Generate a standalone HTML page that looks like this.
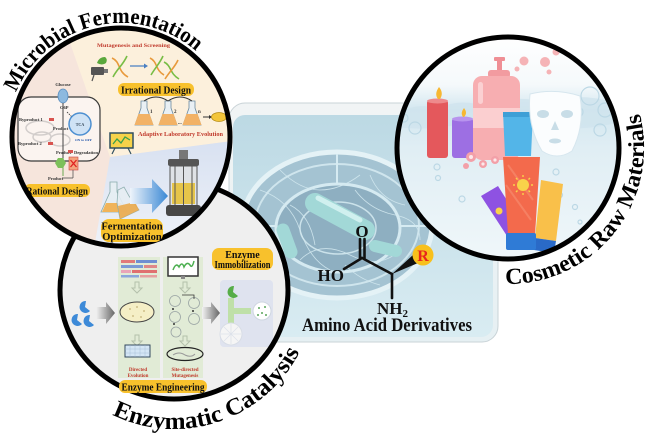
<!DOCTYPE html>
<html><head><meta charset="utf-8"><style>
html,body{margin:0;padding:0;background:#fff;}
svg{display:block;}
text{font-family:"Liberation Serif","Times New Roman",serif;font-weight:bold;}
</style></head><body>
<svg width="650" height="437" viewBox="0 0 650 437" xmlns="http://www.w3.org/2000/svg">
<defs>
<linearGradient id="gPanel" x1="0" y1="0" x2="0" y2="1"><stop offset="0" stop-color="#bcd9e4"/><stop offset="1" stop-color="#d9ecf2"/></linearGradient>
<linearGradient id="gFrame" x1="0" y1="0" x2="0" y2="1"><stop offset="0" stop-color="#f1f4f5"/><stop offset="1" stop-color="#e6f0f3"/></linearGradient>
<linearGradient id="gBlue" x1="0" y1="0" x2="0" y2="1"><stop offset="0" stop-color="#d8e1f1"/><stop offset="1" stop-color="#f1f4fa"/></linearGradient>
<linearGradient id="gCos" gradientUnits="userSpaceOnUse" x1="0" y1="35" x2="0" y2="262"><stop offset="0" stop-color="#ffffff"/><stop offset="0.22" stop-color="#f5f9fb"/><stop offset="0.33" stop-color="#d3e7f0"/><stop offset="0.5" stop-color="#e0eef4"/><stop offset="1" stop-color="#f0f7fa"/></linearGradient>
<linearGradient id="gArr" x1="0" y1="0" x2="1" y2="0"><stop offset="0" stop-color="#eef4fb"/><stop offset="1" stop-color="#3a88d4"/></linearGradient>
<linearGradient id="gGray" x1="0" y1="0" x2="1" y2="0"><stop offset="0" stop-color="#f2f2f2"/><stop offset="1" stop-color="#666"/></linearGradient>
<clipPath id="cM"><circle cx="121" cy="137" r="109"/></clipPath>
<clipPath id="cE"><ellipse cx="174" cy="290" rx="114" ry="109"/></clipPath>
<clipPath id="cC"><circle cx="508" cy="148" r="111"/></clipPath>
<path id="pM" d="M16.1 92.5 A114 114 0 0 1 198.7 53.6"/>
<path id="pE" d="M112.2 414.7 A141 141 0 0 0 301.8 347.6"/>
<path id="pC" d="M505.6 284 A136 136 0 0 0 638.1 108.2"/>
</defs>

<!-- Center panel -->
<rect x="229" y="103" width="269" height="239" rx="16" fill="url(#gFrame)" stroke="#c9d3d7" stroke-width="1"/>
<rect x="233" y="115" width="260" height="222" rx="12" fill="url(#gPanel)"/>
<ellipse cx="337" cy="225" rx="95" ry="73" fill="#a4c3d2" stroke="#e4f2f6" stroke-width="5"/>
<ellipse cx="337" cy="225" rx="82" ry="61" fill="none" stroke="#cfe5ed" stroke-width="2"/>
<ellipse cx="338" cy="228" rx="62" ry="44" fill="#8eafc1" stroke="#d5eaf1" stroke-width="3"/>
<ellipse cx="338" cy="228" rx="38" ry="26" fill="none" stroke="#cbe2ea" stroke-width="1.5"/>
<line x1="337" y1="154" x2="337" y2="184" stroke="#d6ebf2" stroke-width="2"/>
<line x1="246" y1="226" x2="276" y2="226" stroke="#d6ebf2" stroke-width="2"/>
<line x1="400" y1="226" x2="428" y2="226" stroke="#d6ebf2" stroke-width="2"/>
<g fill="none" stroke="#d3e9f0" stroke-width="0.8" opacity="0.9">
<path d="M260 190 Q290 200 300 230 T330 270"/>
<path d="M280 170 Q300 190 320 190 T360 175"/>
<path d="M300 260 Q320 240 350 255 T400 250"/>
<path d="M370 175 Q380 200 405 205"/>
<path d="M255 240 Q275 250 290 275"/>
<path d="M355 190 Q370 210 395 215 T420 240"/>
<path d="M290 205 Q310 215 315 245"/>
<path d="M345 265 Q360 280 380 285"/>
</g>
<line x1="315" y1="203" x2="365" y2="230" stroke="#a2d8d7" stroke-width="20" stroke-linecap="round"/>
<line x1="318" y1="198" x2="360" y2="220" stroke="#d0f0ef" stroke-width="5" stroke-linecap="round"/>
<line x1="283" y1="230" x2="291" y2="252" stroke="#a2d8d7" stroke-width="13" stroke-linecap="round"/>
<line x1="375" y1="246" x2="396" y2="251" stroke="#a2d8d7" stroke-width="12" stroke-linecap="round"/>

<!-- Chemical structure -->
<g stroke="#111" stroke-width="2.6" fill="none" stroke-linecap="round">
<line x1="360" y1="239" x2="360" y2="258"/>
<line x1="364.5" y1="239" x2="364.5" y2="258"/>
<line x1="362" y1="258" x2="344" y2="269"/>
<line x1="362" y1="258" x2="392" y2="274"/>
<line x1="392" y1="274" x2="392" y2="298"/>
</g>
<polygon points="392,274 413,255 418,263" fill="#111"/>
<circle cx="423" cy="255" r="10.5" fill="#f8c01c"/>
<text x="423" y="261" font-size="16" fill="#e8261d" text-anchor="middle">R</text>
<text x="362" y="237" font-size="17" fill="#111" text-anchor="middle">O</text>
<text x="344" y="281" font-size="17" fill="#111" text-anchor="end">HO</text>
<text x="377" y="314" font-size="17" fill="#111">NH<tspan font-size="11" dy="3">2</tspan></text>
<text x="302" y="331" font-size="18.5" fill="#111" textLength="170" lengthAdjust="spacingAndGlyphs">Amino Acid Derivatives</text>

<!-- Enzymatic circle -->
<ellipse cx="174" cy="290" rx="114" ry="109" fill="#efefef"/>
<g clip-path="url(#cE)">
<rect x="118" y="257" width="42" height="121" fill="#e1ebd6"/>
<rect x="163" y="257" width="40" height="121" fill="#e1ebd6"/>
<g>
<rect x="121" y="260" width="14" height="3" fill="#e07a7a"/><rect x="136" y="260" width="21" height="3" fill="#6f8fd2"/>
<rect x="121" y="265" width="22" height="3" fill="#7a9ad6"/><rect x="144" y="265" width="13" height="3" fill="#e08888"/>
<rect x="121" y="270" width="10" height="3" fill="#e9a4b8"/><rect x="132" y="270" width="25" height="3" fill="#e07070"/>
<rect x="121" y="275" width="18" height="2.5" fill="#8aa6dc"/><rect x="140" y="275" width="17" height="2.5" fill="#e6a0a0"/>
</g>
<g fill="none" stroke="#b4c0ab" stroke-width="1">
<path d="M135 282 h4 v6 h3 l-5 5 l-5 -5 h3 z"/>
<path d="M135 335 h4 v6 h3 l-5 5 l-5 -5 h3 z"/>
<path d="M183 282 h4 v6 h3 l-5 5 l-5 -5 h3 z"/>
<path d="M183 336 h4 v5 h3 l-5 5 l-5 -5 h3 z"/>
</g>
<ellipse cx="137" cy="312" rx="17" ry="10" fill="#f5efc6" stroke="#444" stroke-width="1"/>
<g fill="#cfc08a"><circle cx="130" cy="309" r="1"/><circle cx="137" cy="307" r="1"/><circle cx="144" cy="311" r="1"/><circle cx="133" cy="316" r="1"/><circle cx="141" cy="317" r="1"/></g>
<rect x="125" y="345" width="25" height="12" fill="#d4e6f5" stroke="#34495e" stroke-width="1"/>
<g stroke="#9fb8d0" stroke-width="0.4"><line x1="125" y1="349" x2="150" y2="349"/><line x1="125" y1="353" x2="150" y2="353"/><line x1="130" y1="345" x2="130" y2="357"/><line x1="135" y1="345" x2="135" y2="357"/><line x1="140" y1="345" x2="140" y2="357"/><line x1="145" y1="345" x2="145" y2="357"/></g>
<text x="138" y="371" font-size="5" fill="#c0392b" text-anchor="middle">Directed</text>
<text x="138" y="377" font-size="5" fill="#c0392b" text-anchor="middle">Evolution</text>
<rect x="168" y="257" width="30" height="19" fill="#fff" stroke="#333" stroke-width="1.5"/>
<path d="M173 270 q3 -8 6 -3 q3 -6 5 0 q3 -6 6 -2 q2 4 4 -4" fill="none" stroke="#4caf50" stroke-width="1.5"/>
<rect x="181" y="276" width="4" height="3" fill="#888"/>
<g fill="none" stroke="#9aa4a4" stroke-width="0.8">
<circle cx="175" cy="301" r="5.5"/><circle cx="194" cy="303" r="5.5"/><circle cx="175" cy="317" r="5.5"/><circle cx="194" cy="319" r="5.5"/><circle cx="176" cy="332" r="5"/>
<path d="M182 295 h12 v4" stroke="#333"/>
</g>
<circle cx="173" cy="309" r="1" fill="#333"/><circle cx="193" cy="311" r="1" fill="#333"/><circle cx="174" cy="324" r="1" fill="#333"/>
<ellipse cx="185" cy="354" rx="18" ry="6.5" fill="none" stroke="#222" stroke-width="1.2"/>
<path d="M173 355 q6 -4 12 0 q6 3 10 -1" fill="none" stroke="#999" stroke-width="1"/>
<text x="185" y="371" font-size="5" fill="#c0392b" text-anchor="middle">Site-directed</text>
<text x="185" y="377" font-size="5" fill="#c0392b" text-anchor="middle">Mutagenesis</text>
<polygon points="96,307 106,307 106,302 115,313 106,324 106,319 96,319" fill="url(#gGray)"/>
<polygon points="202,307 211,307 211,302 220,313 211,324 211,319 202,319" fill="url(#gGray)"/>
<g fill="#3d8ad8">
<path d="M86 301 a6 6 0 1 0 4 10 l-5 -4 z"/>
<path d="M78 314 a6 6 0 1 0 4 10 l-5 -4 z"/>
<path d="M90 315 a6 6 0 1 0 4 10 l-5 -4 z"/>
</g>
<rect x="220" y="280" width="53" height="67" rx="4" fill="#dfe3ef"/>
<path d="M234 286 a6 6 0 1 0 4 10 l-5 -4 z" fill="#56ad48"/>
<rect x="228" y="298" width="6" height="26" fill="#bfe0a8"/>
<rect x="231" y="308" width="20" height="6" fill="#bfe0a8"/>
<circle cx="262" cy="311" r="9" fill="#fff" stroke="#cfd6e0" stroke-width="1"/>
<g fill="#5aa65a"><circle cx="259" cy="308" r="1"/><circle cx="265" cy="307" r="1"/><circle cx="262" cy="313" r="1"/><circle cx="258" cy="315" r="1"/><circle cx="266" cy="315" r="1"/></g>
<circle cx="231" cy="334" r="11" fill="#f5f5f5" stroke="#d8dde6" stroke-width="1"/>
<path d="M221 334 h20 M231 324 v20 M224 327 l14 14 M238 327 l-14 14" stroke="#dde2ea" stroke-width="0.8"/>
</g>
<ellipse cx="174" cy="290" rx="114" ry="109" fill="none" stroke="#000" stroke-width="5"/>
<rect x="212" y="248" width="61" height="22" rx="7" fill="#f8c12c"/>
<text x="242.5" y="258" font-size="10" fill="#111" text-anchor="middle">Enzyme</text>
<text x="242.5" y="268" font-size="10" fill="#111" text-anchor="middle" textLength="56" lengthAdjust="spacingAndGlyphs">Immobilization</text>
<rect x="119" y="380" width="88" height="13" rx="6" fill="#f8c12c"/>
<text x="163" y="390.5" font-size="10.5" fill="#111" text-anchor="middle" textLength="83" lengthAdjust="spacingAndGlyphs">Enzyme Engineering</text>

<!-- Microbial circle -->
<circle cx="121" cy="137" r="109" fill="#f6e5dc"/>
<g clip-path="url(#cM)">
<polygon points="62,20 240,20 240,140 110,157" fill="#fcf0dc"/>
<polygon points="110,157 240,140 240,260 92,260" fill="url(#gBlue)"/>
<rect x="18" y="97" width="82" height="64" rx="13" fill="#fbf4f0" stroke="#3a3a3a" stroke-width="1.2"/>
<g fill="none" stroke="#d2cdcb" stroke-width="1.5">
<ellipse cx="40" cy="128" rx="14" ry="7"/><ellipse cx="42" cy="137" rx="9" ry="5"/><ellipse cx="60" cy="140" rx="10" ry="6"/>
</g>
<text x="63" y="86" font-size="4.5" fill="#333" text-anchor="middle">Glucose</text>
<ellipse cx="63" cy="96" rx="5" ry="7" fill="#8db9df" stroke="#5b8fc0" stroke-width="0.8"/>
<line x1="63" y1="103" x2="63" y2="162" stroke="#444" stroke-width="1"/>
<line x1="63" y1="162" x2="63" y2="176" stroke="#6aa84f" stroke-width="1"/>
<text x="60" y="109" font-size="4.5" fill="#333">G6P</text>
<path d="M67 112 L73 118" stroke="#333" stroke-width="0.8" stroke-dasharray="1.5 1"/>
<circle cx="80" cy="124" r="11" fill="#cfe2f5" stroke="#4d8fd1" stroke-width="1.5"/>
<text x="80" y="126" font-size="4" fill="#345" text-anchor="middle" font-weight="normal">TCA</text>
<text x="75" y="141" font-size="3.5" fill="#2255aa">ON to OFF</text>
<text x="19" y="121" font-size="4.5" fill="#333" font-weight="normal">Byproduct 1</text>
<rect x="49" y="118" width="5" height="3" fill="#d9534f"/>
<text x="53" y="130" font-size="4.5" fill="#333" font-weight="normal">Product</text>
<text x="18" y="145" font-size="4.5" fill="#333" font-weight="normal">Byproduct 2</text>
<rect x="48" y="142" width="5" height="3" fill="#d9534f"/>
<text x="56" y="154" font-size="4.5" fill="#333" font-weight="normal">Product</text>
<rect x="68" y="150" width="5" height="3" fill="#d9534f"/>
<text x="74" y="154" font-size="4.5" fill="#333" font-weight="normal">Degradation</text>
<polygon points="58,158 63,158 66,163 63,168 58,168 55,163" fill="#7cc05a"/>
<rect x="69" y="157" width="9" height="13" fill="#f3a47e" stroke="#c44" stroke-width="0.6"/>
<path d="M70.5 160 l6 7 M76.5 160 l-6 7" stroke="#e02020" stroke-width="1.3"/>
<text x="48" y="180" font-size="4.5" fill="#333">Product</text>
<line x1="62" y1="178" x2="73" y2="178" stroke="#444" stroke-width="0.7"/>
<line x1="73" y1="178" x2="73" y2="170" stroke="#444" stroke-width="0.7"/>
<text x="97" y="47" font-size="5.5" fill="#c0392b" textLength="73" lengthAdjust="spacingAndGlyphs">Mutagenesis and Screening</text>
<rect x="91" y="67" width="13" height="8" rx="1" fill="#555"/>
<rect x="104" y="69" width="4" height="4" fill="#777"/>
<line x1="94" y1="75" x2="92" y2="81" stroke="#555" stroke-width="1.2"/>
<path d="M97 63 q2 -6 8 -6 q3 2 1 6 q-4 3 -9 0z" fill="#5aa83c"/>
<g fill="none" stroke-width="1.6">
<path d="M112 58 C121 62 117 71 128 77" stroke="#e89a3c"/>
<path d="M113 77 C117 69 123 65 127 56" stroke="#78bd45"/>
<path d="M150 58 C158 62 155 70 164 75" stroke="#e89a3c"/>
<path d="M151 75 C155 68 160 63 163 56" stroke="#78bd45"/>
<path d="M164 62 C172 66 169 73 179 79" stroke="#78bd45"/>
<path d="M165 79 C170 71 175 67 178 60" stroke="#e89a3c"/>
</g>
<line x1="130" y1="66" x2="144" y2="66" stroke="#4a7fc1" stroke-width="1.2"/>
<polygon points="144,63.5 148,66 144,68.5" fill="#4a7fc1"/>
<rect x="118" y="83" width="76" height="13" rx="6" fill="#f8c12c"/>
<text x="156" y="93.3" font-size="10.5" fill="#111" text-anchor="middle" textLength="70" lengthAdjust="spacingAndGlyphs">Irrational Design</text>
<g stroke="#6a8aa0" stroke-width="0.8">
<path d="M141 101 h6 v7 l6 17 h-18 l6 -17 z" fill="#e9f0f4"/>
<path d="M165 101 h6 v7 l6 17 h-18 l6 -17 z" fill="#e9f0f4"/>
<path d="M189 101 h6 v7 l6 17 h-18 l6 -17 z" fill="#e9f0f4"/>
</g>
<g fill="#f2b266"><path d="M138.5 114 h11 l4 11 h-19 z"/><path d="M162.5 114 h11 l4 11 h-19 z"/><path d="M186.5 114 h11 l4 11 h-19 z"/></g>
<g fill="none" stroke="#333" stroke-width="0.9"><path d="M144 101 Q156 93 168 101"/><path d="M168 101 Q180 93 192 101"/></g>
<text x="150" y="113" font-size="5" fill="#333">1</text><text x="174" y="113" font-size="5" fill="#333">2</text><text x="198" y="113" font-size="5" fill="#333">n</text>
<text x="178" y="124" font-size="5" fill="#333">...</text>
<line x1="203" y1="117" x2="209" y2="117" stroke="#333" stroke-width="0.9"/><polygon points="209,115 212,117 209,119" fill="#333"/>
<ellipse cx="219" cy="117" rx="7.5" ry="4.5" fill="#f3c53a" stroke="#b58a10" stroke-width="0.8"/>
<text x="138" y="136" font-size="6.5" fill="#c0392b" textLength="85" lengthAdjust="spacingAndGlyphs">Adaptive Laboratory Evolution</text>
<rect x="110" y="133" width="23" height="15" fill="#f6d24a" stroke="#2f4f5f" stroke-width="1.5"/>
<polyline points="113,144 117,139 121,143 125,137 130,140" fill="none" stroke="#3aa04a" stroke-width="1.3"/>
<line x1="115" y1="148" x2="112" y2="154" stroke="#2f4f5f" stroke-width="1.2"/><line x1="128" y1="148" x2="131" y2="154" stroke="#2f4f5f" stroke-width="1.2"/>
<path d="M110 182 h7 v10 l10 20 h-26 l9 -20 z" fill="#e6eef3" stroke="#8aa" stroke-width="0.8"/>
<path d="M106 203 h15 l5 9 h-24 z" fill="#f0b45a"/>
<path d="M118 190 l6 -3 l5 9 l10 14 l-19 9 l-3 -16 z" fill="#e6eef3" stroke="#8aa" stroke-width="0.8" opacity="0.9"/>
<path d="M118 206 l17 -4 l4 8 l-19 9z" fill="#eaa84a" opacity="0.9"/>
<polygon points="130,188 152,188 152,179 168,196 152,213 152,204 130,204" fill="url(#gArr)"/>
<rect x="179" y="150" width="9" height="10" fill="#777"/>
<rect x="168" y="159" width="31" height="7" rx="2" fill="#555"/>
<rect x="170" y="166" width="27" height="40" fill="#dfe2e6" stroke="#555" stroke-width="1"/>
<rect x="172" y="183" width="23" height="21" fill="#e6c54a"/>
<g stroke="#555" stroke-width="1"><line x1="175" y1="166" x2="175" y2="206"/><line x1="183.5" y1="166" x2="183.5" y2="206"/><line x1="192" y1="166" x2="192" y2="206"/></g>
<rect x="166" y="205" width="35" height="11" rx="3" fill="#474747"/>
<rect x="24" y="184" width="66" height="13" rx="6" fill="#f8c12c"/>
<text x="57" y="194.3" font-size="10.5" fill="#111" text-anchor="middle" textLength="62" lengthAdjust="spacingAndGlyphs">Rational Design</text>
</g>
<circle cx="121" cy="137" r="109" fill="none" stroke="#000" stroke-width="5"/>
<rect x="101" y="219" width="62" height="23" rx="8" fill="#f8c12c"/>
<text x="132" y="229.3" font-size="10.5" fill="#111" text-anchor="middle">Fermentation</text>
<text x="132" y="240" font-size="10.5" fill="#111" text-anchor="middle">Optimization</text>

<!-- Cosmetic circle -->
<circle cx="508" cy="148" r="111" fill="url(#gCos)"/>
<g clip-path="url(#cC)">
<path d="M396 115 q20 -14 40 -6 q25 -12 50 -2 q30 -14 60 -4 q30 -12 70 0 v20 q-40 10 -80 2 q-40 8 -80 0 q-30 6 -60 2z" fill="#cfe4ee" opacity="0.8"/>
<g fill="none" stroke="#bcd8e5" stroke-width="1.2">
<circle cx="415" cy="128" r="6"/><circle cx="404" cy="118" r="4"/><circle cx="590" cy="96" r="9"/><circle cx="605" cy="110" r="7"/><circle cx="578" cy="112" r="5"/><circle cx="600" cy="130" r="6"/>
<circle cx="437" cy="167" r="3"/><circle cx="438" cy="178" r="2.5"/><circle cx="462" cy="199" r="3"/><circle cx="556" cy="172" r="3"/><circle cx="560" cy="195" r="2.5"/><circle cx="575" cy="207" r="2.5"/><circle cx="580" cy="222" r="2"/>
</g>
<g fill="#f5b3b6"><circle cx="524" cy="61" r="4.5"/><circle cx="545" cy="62" r="5"/><circle cx="556" cy="52" r="3.5"/><circle cx="517" cy="69" r="2.5"/><circle cx="549" cy="72" r="2.5"/></g>
<rect x="494" y="57" width="11" height="4" rx="1" fill="#ef8f95"/>
<rect x="497" y="61" width="5" height="10" fill="#ef8f95"/>
<rect x="488" y="70" width="22" height="8" rx="3" fill="#f29ba0"/>
<rect x="473" y="76" width="47" height="84" rx="9" fill="#f7aeb1"/>
<rect x="473" y="108" width="47" height="20" fill="#fbcfd0"/>
<rect x="478" y="82" width="5" height="22" rx="2.5" fill="#fbd0d2"/>
<rect x="427" y="100" width="21" height="58" rx="3" fill="#e4585c"/>
<ellipse cx="437.5" cy="101" rx="10.5" ry="2.5" fill="#ee8a8c"/>
<path d="M438 99 q-4 -5 1 -12 q5 6 1 12z" fill="#f7b733"/>
<rect x="452" y="118" width="21" height="40" rx="3" fill="#9d6fe3"/>
<ellipse cx="462.5" cy="119" rx="10.5" ry="2.5" fill="#b894ee"/>
<path d="M463 117 q-3 -4 1 -9 q4 5 0 9z" fill="#f7b733"/>
<path d="M503 112 h30 l-2 44 h-26z" fill="#53b5e8"/>
<rect x="503" y="112" width="30" height="5" fill="#3e9fd6"/>
<path d="M530 94 q25 -6 50 2 q5 30 -8 55 q-15 10 -30 0 q-15 -25 -12 -57z" fill="#fbfdfe" stroke="#d6e6ee" stroke-width="1"/>
<ellipse cx="543" cy="114" rx="6" ry="4" fill="#c8dde7"/>
<ellipse cx="567" cy="114" rx="6" ry="4" fill="#c8dde7"/>
<path d="M555 121 l-4 9 h8z" fill="#c8dde7"/>
<ellipse cx="555" cy="141" rx="6" ry="2.5" fill="#c8dde7"/>
<g fill="#f3a0a8"><circle cx="471" cy="157" r="5"/><circle cx="483" cy="164" r="4"/><circle cx="495" cy="160" r="4"/><circle cx="466" cy="166" r="3"/></g>
<g fill="#fde8ea"><circle cx="471" cy="157" r="2"/><circle cx="483" cy="164" r="1.6"/><circle cx="495" cy="160" r="1.6"/></g>
<path d="M481 196 l17 -10 l25 40 l-16 10z" fill="#8e52e2"/>
<circle cx="499" cy="211" r="3.5" fill="#f9d24a"/>
<path d="M507 236 l16 -10 l6 9 l-16 10z" fill="#3b2fa8"/>
<path d="M541 180 l22 4 l-7 57 l-21 -3z" fill="#f9c04a"/>
<path d="M535 238 l21 3 l-2 12 l-20 -3z" fill="#2a6ac7"/>
<path d="M503 157 h37 l-5 78 h-27z" fill="#f36a4c"/>
<path d="M508 165 l25 35 M506 185 l25 35" stroke="#f68a6e" stroke-width="2" opacity="0.7"/>
<circle cx="523" cy="185" r="6" fill="#f9d24a"/>
<g stroke="#f9d24a" stroke-width="1.4"><line x1="523" y1="175" x2="523" y2="177"/><line x1="523" y1="193" x2="523" y2="195"/><line x1="513" y1="185" x2="515" y2="185"/><line x1="531" y1="185" x2="533" y2="185"/><line x1="516" y1="178" x2="517.5" y2="179.5"/><line x1="528.5" y1="190.5" x2="530" y2="192"/><line x1="530" y1="178" x2="528.5" y2="179.5"/><line x1="517.5" y1="190.5" x2="516" y2="192"/></g>
<rect x="506" y="233" width="30" height="17" rx="2" fill="#2f7bd6"/>
</g>
<circle cx="508" cy="148" r="111" fill="none" stroke="#000" stroke-width="5"/>

<!-- Arc titles -->
<text font-size="22" fill="#000"><textPath href="#pM" textLength="215" lengthAdjust="spacingAndGlyphs">Microbial Fermentation</textPath></text>
<text font-size="24" fill="#000"><textPath href="#pE" textLength="219" lengthAdjust="spacingAndGlyphs">Enzymatic Catalysis</textPath></text>
<text font-size="23" fill="#000"><textPath href="#pC" textLength="251" lengthAdjust="spacingAndGlyphs">Cosmetic Raw Materials</textPath></text>
</svg>
</body></html>
